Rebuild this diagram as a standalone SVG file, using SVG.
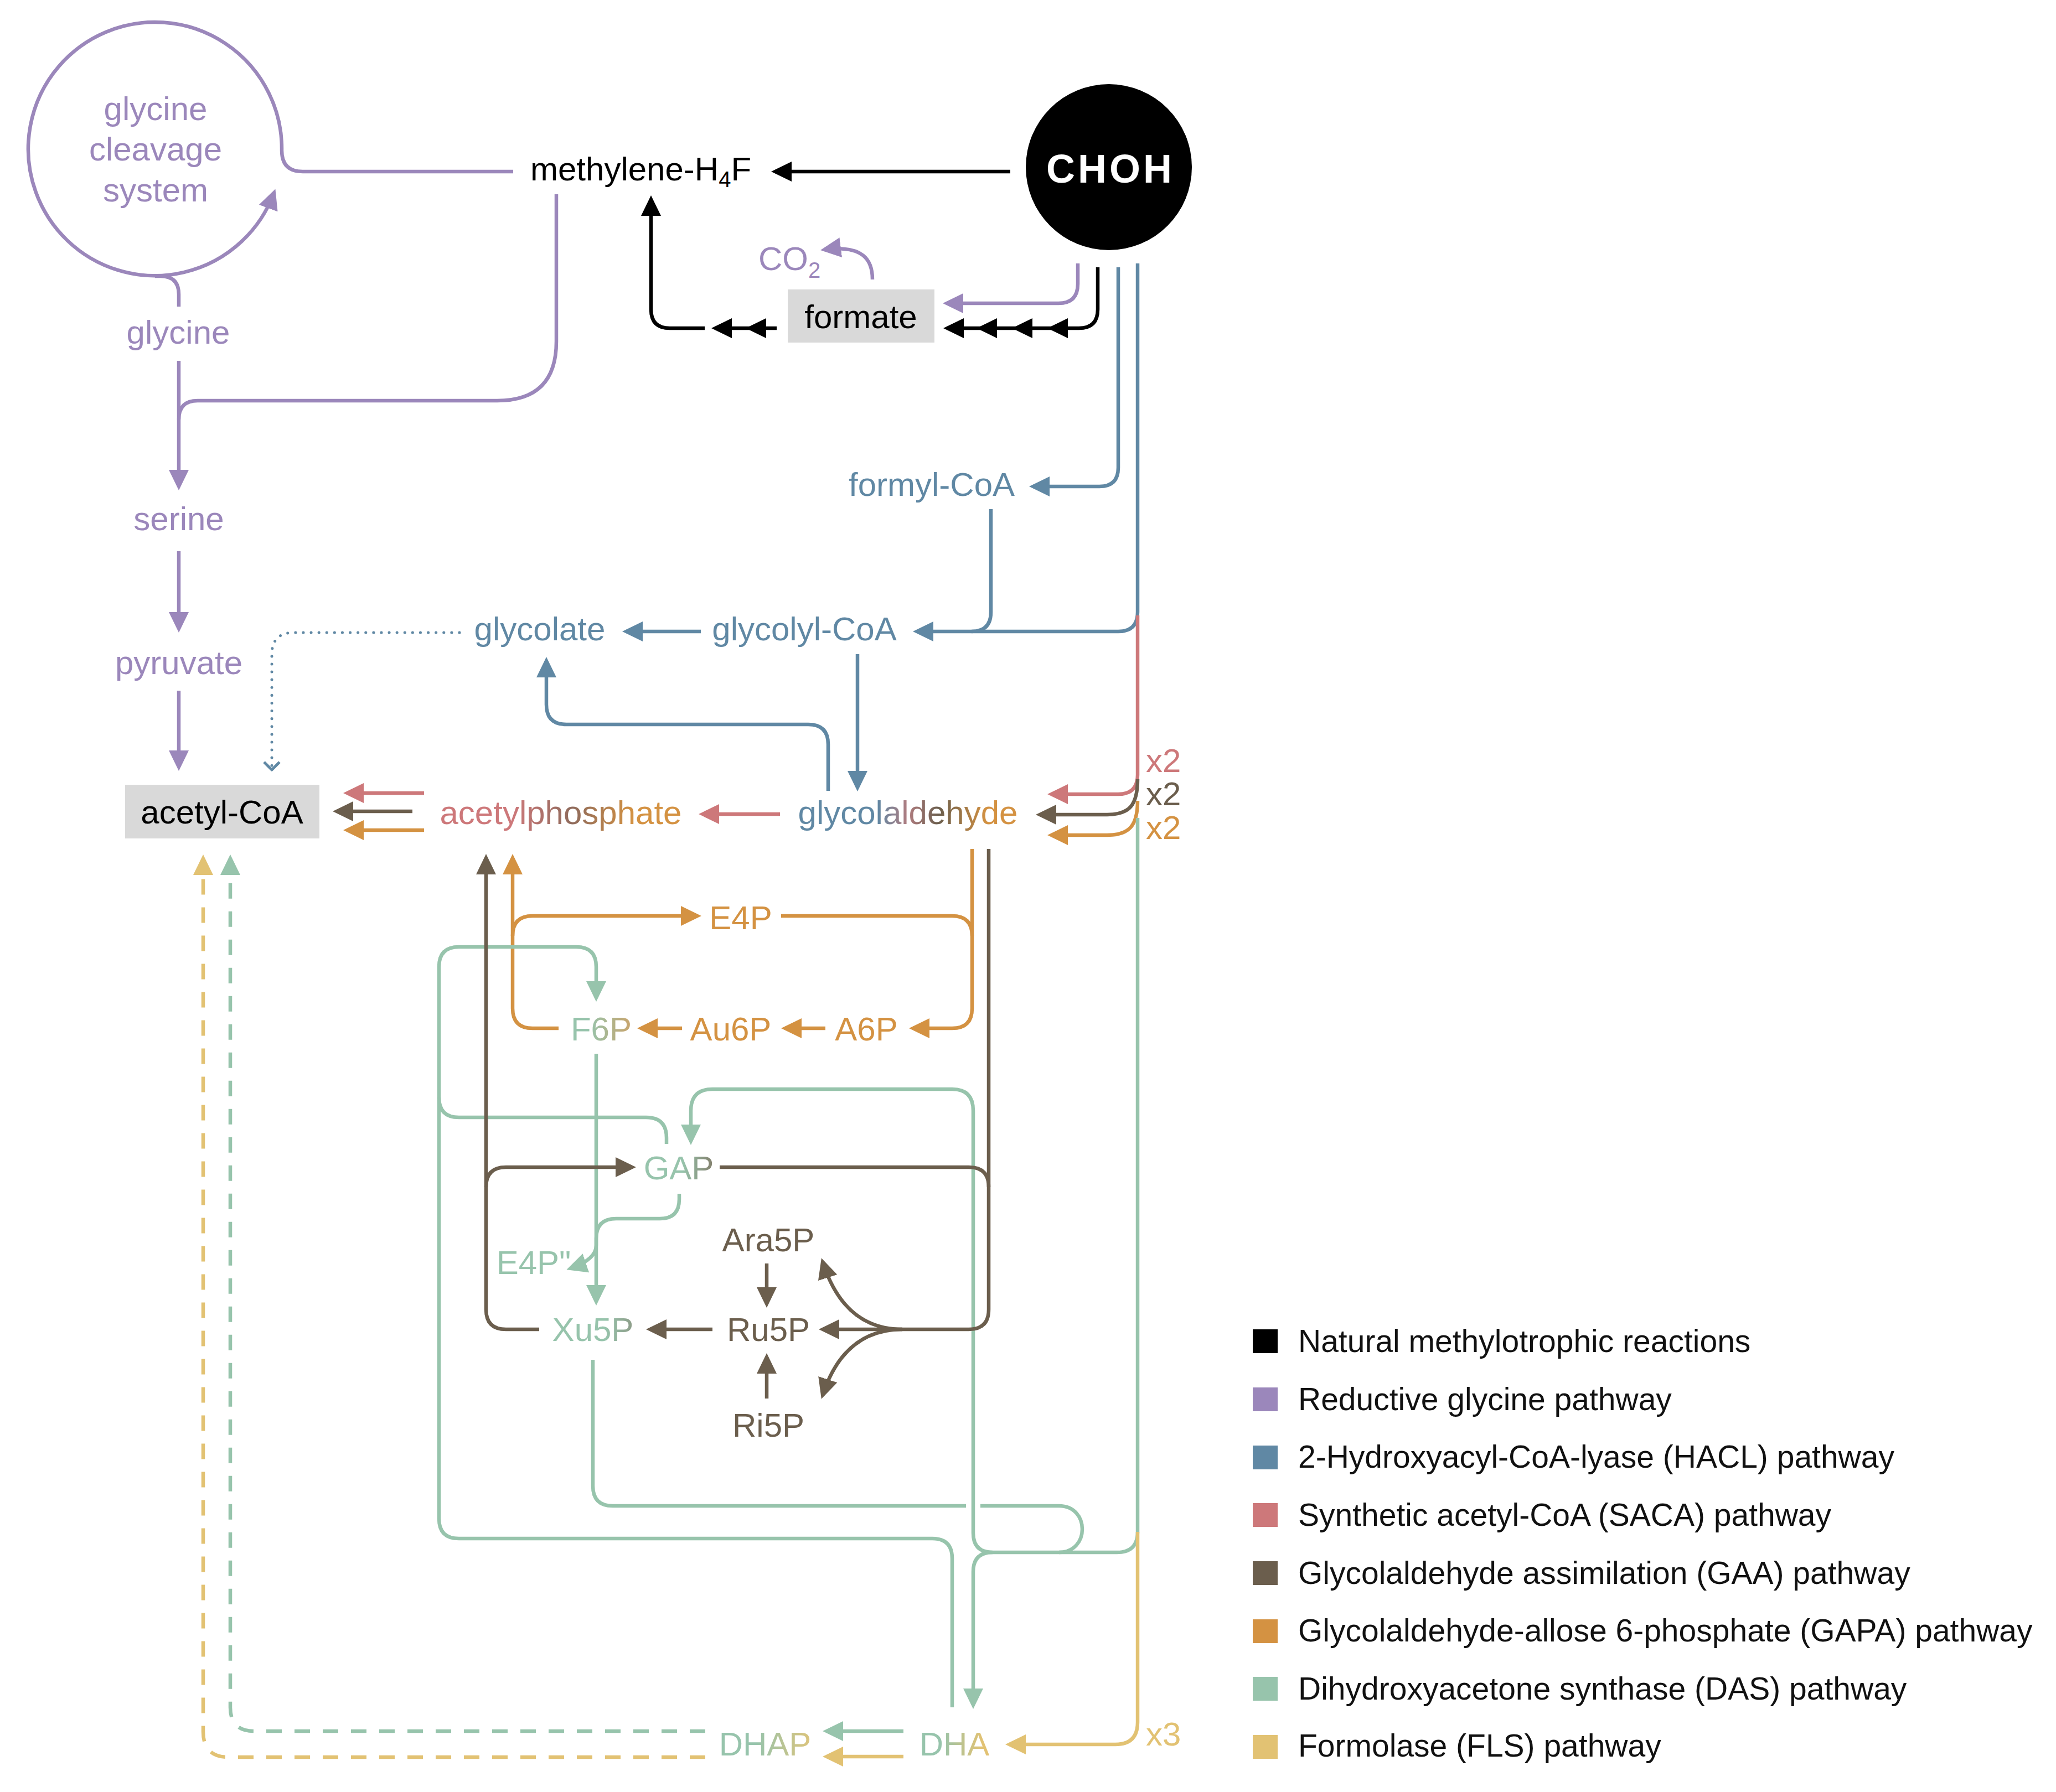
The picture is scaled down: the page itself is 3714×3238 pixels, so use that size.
<svg xmlns="http://www.w3.org/2000/svg" width="3714" height="3238" viewBox="0 0 3714 3238">
<style>
.c{fill:none;stroke-width:6.5;stroke-linecap:butt;stroke-linejoin:round}
.k{stroke:#000}.pu{stroke:#9b87bb}.bl{stroke:#6088a4}.rd{stroke:#cd787a}.br{stroke:#6b5e4d}.or{stroke:#d49242}.gr{stroke:#97c4ac}.ye{stroke:#e2c273}
.dash{stroke-dasharray:28 23}
.dot{stroke-width:5;stroke-dasharray:0.1 14;stroke-linecap:round}
.t{font-family:'Liberation Sans',Arial,Helvetica,sans-serif;font-size:60px}
.m{text-anchor:middle}
.lg{font-family:'Liberation Sans',Arial,Helvetica,sans-serif;font-size:57px;fill:#111}
.fk{fill:#000}.fpu{fill:#9b87bb}.fbl{fill:#6088a4}.frd{fill:#cd787a}.fbr{fill:#6b5e4d}.for{fill:#d49242}.fgr{fill:#97c4ac}.fye{fill:#e2c273}
.box{fill:#d9d9d9}
</style>
<defs>
<marker id="a-k" viewBox="0 0 37 36" refX="30" refY="18" markerWidth="37" markerHeight="36" markerUnits="userSpaceOnUse" orient="auto"><path d="M0,0 L37,18 L0,36 z" fill="#000"/></marker>
<marker id="a-pu" viewBox="0 0 37 36" refX="30" refY="18" markerWidth="37" markerHeight="36" markerUnits="userSpaceOnUse" orient="auto"><path d="M0,0 L37,18 L0,36 z" fill="#9b87bb"/></marker>
<marker id="a-bl" viewBox="0 0 37 36" refX="30" refY="18" markerWidth="37" markerHeight="36" markerUnits="userSpaceOnUse" orient="auto"><path d="M0,0 L37,18 L0,36 z" fill="#6088a4"/></marker>
<marker id="a-rd" viewBox="0 0 37 36" refX="30" refY="18" markerWidth="37" markerHeight="36" markerUnits="userSpaceOnUse" orient="auto"><path d="M0,0 L37,18 L0,36 z" fill="#cd787a"/></marker>
<marker id="a-br" viewBox="0 0 37 36" refX="30" refY="18" markerWidth="37" markerHeight="36" markerUnits="userSpaceOnUse" orient="auto"><path d="M0,0 L37,18 L0,36 z" fill="#6b5e4d"/></marker>
<marker id="a-or" viewBox="0 0 37 36" refX="30" refY="18" markerWidth="37" markerHeight="36" markerUnits="userSpaceOnUse" orient="auto"><path d="M0,0 L37,18 L0,36 z" fill="#d49242"/></marker>
<marker id="a-gr" viewBox="0 0 37 36" refX="30" refY="18" markerWidth="37" markerHeight="36" markerUnits="userSpaceOnUse" orient="auto"><path d="M0,0 L37,18 L0,36 z" fill="#97c4ac"/></marker>
<marker id="a-ye" viewBox="0 0 37 36" refX="30" refY="18" markerWidth="37" markerHeight="36" markerUnits="userSpaceOnUse" orient="auto"><path d="M0,0 L37,18 L0,36 z" fill="#e2c273"/></marker>
<linearGradient id="gGald" x1="0" y1="0" x2="1" y2="0"><stop offset="0" stop-color="#6088a4"/><stop offset="0.36" stop-color="#6088a4"/><stop offset="0.5" stop-color="#b07d80"/><stop offset="0.64" stop-color="#6b5e4d"/><stop offset="0.86" stop-color="#d49242"/><stop offset="1" stop-color="#d49242"/></linearGradient>
<linearGradient id="gAcP" x1="0" y1="0" x2="1" y2="0"><stop offset="0" stop-color="#cd787a"/><stop offset="0.3" stop-color="#cd787a"/><stop offset="0.55" stop-color="#8f6b5c"/><stop offset="0.8" stop-color="#d49242"/><stop offset="1" stop-color="#d49242"/></linearGradient>
<linearGradient id="gF6P" x1="0" y1="0" x2="1" y2="0"><stop offset="0" stop-color="#97c4ac"/><stop offset="0.3" stop-color="#97c4ac"/><stop offset="1" stop-color="#c9a46c"/></linearGradient>
<linearGradient id="gGAP" x1="0" y1="0" x2="1" y2="0"><stop offset="0" stop-color="#97c4ac"/><stop offset="0.55" stop-color="#97c4ac"/><stop offset="1" stop-color="#837f6c"/></linearGradient>
<linearGradient id="gXu5P" x1="0" y1="0" x2="1" y2="0"><stop offset="0" stop-color="#97c4ac"/><stop offset="0.65" stop-color="#97c4ac"/><stop offset="1" stop-color="#8d9c88"/></linearGradient>
<linearGradient id="gDHAP" x1="0" y1="0" x2="1" y2="0"><stop offset="0" stop-color="#97c4ac"/><stop offset="0.4" stop-color="#97c4ac"/><stop offset="1" stop-color="#dcc47c"/></linearGradient>
<linearGradient id="gDHA" x1="0" y1="0" x2="1" y2="0"><stop offset="0" stop-color="#97c4ac"/><stop offset="0.3" stop-color="#97c4ac"/><stop offset="0.9" stop-color="#e2c273"/><stop offset="1" stop-color="#e2c273"/></linearGradient>
</defs>
<rect width="3714" height="3238" fill="#fff"/>

<g id="connectors">
<!-- purple -->
<path class="c pu" d="M927 310 H547 Q509 310 509 272 A229 229 0 1 0 495 348" marker-end="url(#a-pu)"/>
<path class="c pu" d="M323 554 V532 Q323 499 290 499 H280"/>
<path class="c pu" d="M323 652 V879" marker-end="url(#a-pu)"/>
<path class="c pu" d="M1005 351 V617 Q1005 724 898 724 H357 Q323 724 323 758"/>
<path class="c pu" d="M323 996 V1136" marker-end="url(#a-pu)"/>
<path class="c pu" d="M323 1248 V1386" marker-end="url(#a-pu)"/>
<path class="c pu" d="M1947 476 V513 Q1947 548 1912 548 H1710" marker-end="url(#a-pu)"/>
<path class="c pu" d="M1576 505 C1576 470 1560 442 1489 451" marker-end="url(#a-pu)"/>
<!-- black -->
<path class="c k" d="M1825 310 H1400" marker-end="url(#a-k)"/>
<path class="c k" d="M1983 483 V559 Q1983 593 1949 593 H1710"/>
<polygon class="fk" points="1704,593 1741,575 1741,611"/>
<polygon class="fk" points="1764,593 1801,575 1801,611"/>
<polygon class="fk" points="1828,593 1865,575 1865,611"/>
<polygon class="fk" points="1892,593 1929,575 1929,611"/>
<path class="c k" d="M1403 593 H1292"/>
<polygon class="fk" points="1347,593 1384,575 1384,611"/>
<polygon class="fk" points="1285,593 1322,575 1322,611"/>
<path class="c k" d="M1273 593 H1210 Q1176 593 1176 559 V360" marker-end="url(#a-k)"/>
<!-- blue -->
<path class="c bl" d="M2020 483 V845 Q2020 879 1986 879 H1866" marker-end="url(#a-bl)"/>
<path class="c bl" d="M2055 476 V1106 Q2055 1141 2020 1141 H1656" marker-end="url(#a-bl)"/>
<path class="c bl" d="M1790 920 V1106 Q1790 1141 1755 1141"/>
<path class="c bl" d="M1266 1141 H1131" marker-end="url(#a-bl)"/>
<path class="c bl" d="M1549 1182 V1423" marker-end="url(#a-bl)"/>
<path class="c bl" d="M1496 1429 V1345 Q1496 1309 1460 1309 H1023 Q987 1309 987 1273 V1194" marker-end="url(#a-bl)"/>
<path class="c bl dot" d="M830 1143 H531 Q491 1143 491 1183 V1386"/>
<polyline class="c bl" style="stroke-width:5" points="477,1377 491,1391 505,1377"/>
<!-- red -->
<path class="c rd" d="M2055 1112 V1400 Q2055 1435 2020 1435 H1899" marker-end="url(#a-rd)"/>
<path class="c rd" d="M1409 1471 H1269" marker-end="url(#a-rd)"/>
<path class="c rd" d="M766 1433 H627" marker-end="url(#a-rd)"/>
<!-- orange -->
<path class="c or" d="M2055 1447 C2055 1492 2040 1509 2000 1509 H1899" marker-end="url(#a-or)"/>
<path class="c or" d="M766 1500 H627" marker-end="url(#a-or)"/>
<path class="c or" d="M1756 1534 V1822 Q1756 1858 1720 1858 H1649" marker-end="url(#a-or)"/>
<path class="c or" d="M1411 1655 H1720 Q1756 1655 1756 1691"/>
<path class="c or" d="M1491 1858 H1418" marker-end="url(#a-or)"/>
<path class="c or" d="M1232 1858 H1158" marker-end="url(#a-or)"/>
<path class="c or" d="M1009 1858 H962 Q926 1858 926 1822 V1550" marker-end="url(#a-or)"/>
<path class="c or" d="M926 1691 Q926 1655 962 1655 H1260" marker-end="url(#a-or)"/>
<!-- green -->
<path class="c gr" d="M2055 1478 V2768 Q2055 2805 2018 2805 H1793 Q1758 2805 1758 2770 V2007 Q1758 1968 1720 1968 H1287 Q1248 1968 1248 2007 V2062" marker-end="url(#a-gr)"/>
<path class="c gr" d="M1793 2805 Q1758 2805 1758 2840 V3081" marker-end="url(#a-gr)"/>
<path class="c gr" d="M1071 2457 V2685 Q1071 2721 1107 2721 H1745 M1771 2721 H1913 C1969 2721 1969 2805 1913 2805"/>
<path class="c gr" d="M1720 3085 V2816 Q1720 2780 1684 2780 H829 Q793 2780 793 2744 V1747 Q793 1711 829 1711 H1041 Q1077 1711 1077 1747 V1803" marker-end="url(#a-gr)"/>
<path class="c gr" d="M793 1983 Q793 2019 829 2019 H1167 Q1204 2019 1204 2056 V2067"/>
<path class="c gr" d="M1077 1904 V2352" marker-end="url(#a-gr)"/>
<path class="c gr" d="M1227 2157 V2167 Q1227 2202 1192 2202 H1113 Q1077 2202 1077 2238 V2250 Q1077 2276 1030 2292" marker-end="url(#a-gr)"/>
<path class="c gr" d="M1632 3128 H1493" marker-end="url(#a-gr)"/>
<path class="c gr dash" d="M1274 3128 H459 Q416 3128 416 3085 V1551" marker-end="url(#a-gr)"/>
<!-- yellow -->
<path class="c ye" d="M2055 2768 V3112 Q2055 3152 2015 3152 H1823" marker-end="url(#a-ye)"/>
<path class="c ye" d="M1632 3174 H1493" marker-end="url(#a-ye)"/>
<path class="c ye dash" d="M1274 3175 H413 Q367 3175 367 3129 V1551" marker-end="url(#a-ye)"/>
<!-- brown -->
<path class="c br" d="M2055 1408 C2055 1455 2040 1472 2000 1472 H1878" marker-end="url(#a-br)"/>
<path class="c br" d="M745 1466 H608" marker-end="url(#a-br)"/>
<path class="c br" d="M1786 1534 V2366 Q1786 2402 1750 2402 H1630"/>
<path class="c br" d="M1300 2109 H1750 Q1786 2109 1786 2145"/>
<path class="c br" d="M1630 2402 H1486" marker-end="url(#a-br)"/>
<path class="c br" d="M1630 2402 Q1525 2402 1486 2280" marker-end="url(#a-br)"/>
<path class="c br" d="M1630 2402 Q1525 2402 1486 2521" marker-end="url(#a-br)"/>
<path class="c br" d="M1385 2283 V2356" marker-end="url(#a-br)"/>
<path class="c br" d="M1385 2527 V2452" marker-end="url(#a-br)"/>
<path class="c br" d="M1287 2402 H1174" marker-end="url(#a-br)"/>
<path class="c br" d="M974 2402 H914 Q878 2402 878 2366 V1550" marker-end="url(#a-br)"/>
<path class="c br" d="M878 2145 Q878 2109 914 2109 H1142" marker-end="url(#a-br)"/>
</g>

<g id="node-gcs"><text class="t m fpu" x="281" y="217">glycine</text><text class="t m fpu" x="281" y="290">cleavage</text><text class="t m fpu" x="281" y="364">system</text></g>
<g id="node-glycine"><text class="t m fpu" x="322" y="621">glycine</text></g>
<g id="node-serine"><text class="t m fpu" x="323" y="958">serine</text></g>
<g id="node-pyruvate"><text class="t m fpu" x="323" y="1218">pyruvate</text></g>
<g id="node-acetylcoa"><rect class="box" x="226" y="1418" width="351" height="97"/><text class="t m fk" x="401" y="1488">acetyl-CoA</text></g>
<g id="node-methylene"><text class="t fk" x="958" y="326">methylene-H<tspan font-size="40" dy="12">4</tspan><tspan dy="-12">F</tspan></text></g>
<g id="node-CHOH"><circle cx="2003" cy="302" r="150" fill="#000"/><text x="2006" y="330" text-anchor="middle" font-family="'Liberation Sans',Arial,Helvetica,sans-serif" font-size="72" font-weight="bold" letter-spacing="5" fill="#fff">CHOH</text></g>
<g id="node-formate"><rect class="box" x="1423" y="523" width="265" height="96"/><text class="t m fk" x="1555" y="593">formate</text></g>
<g id="node-CO2"><text class="t fpu" x="1370" y="488">CO<tspan font-size="40" dy="14">2</tspan></text></g>
<g id="node-formylcoa"><text class="t m fbl" x="1683" y="896">formyl-CoA</text></g>
<g id="node-glycolylcoa"><text class="t m fbl" x="1453" y="1157">glycolyl-CoA</text></g>
<g id="node-glycolate"><text class="t m fbl" x="975" y="1157">glycolate</text></g>
<g id="node-glycolaldehyde"><text class="t m" fill="url(#gGald)" x="1640" y="1489">glycolaldehyde</text></g>
<g id="node-acetylphosphate"><text class="t m" fill="url(#gAcP)" x="1013" y="1489">acetylphosphate</text></g>
<g id="node-E4P"><text class="t m for" x="1338" y="1679">E4P</text></g>
<g id="node-F6P"><text class="t m" fill="url(#gF6P)" x="1086" y="1880">F6P</text></g>
<g id="node-Au6P"><text class="t m for" x="1320" y="1880">Au6P</text></g>
<g id="node-A6P"><text class="t m for" x="1565" y="1880">A6P</text></g>
<g id="node-GAP"><text class="t m" fill="url(#gGAP)" x="1226" y="2131">GAP</text></g>
<g id="node-E4P2"><text class="t m fgr" x="964" y="2302">E4P"</text></g>
<g id="node-Ara5P"><text class="t m fbr" x="1388" y="2261">Ara5P</text></g>
<g id="node-Ru5P"><text class="t m fbr" x="1388" y="2423">Ru5P</text></g>
<g id="node-Ri5P"><text class="t m fbr" x="1388" y="2596">Ri5P</text></g>
<g id="node-Xu5P"><text class="t m" fill="url(#gXu5P)" x="1071" y="2423">Xu5P</text></g>
<g id="node-DHAP"><text class="t m" fill="url(#gDHAP)" x="1382" y="3172">DHAP</text></g>
<g id="node-DHA"><text class="t m" fill="url(#gDHA)" x="1724" y="3172">DHA</text></g>
<g id="stoichiometry">
<text class="t frd" x="2070" y="1395">x2</text>
<text class="t fbr" x="2070" y="1455">x2</text>
<text class="t for" x="2070" y="1516">x2</text>
<text class="t fye" x="2070" y="3154">x3</text>
</g>

<g id="legend">
<rect x="2263" y="2402" width="45" height="43" fill="#000"/><text class="lg" x="2345" y="2443">Natural methylotrophic reactions</text>
<rect x="2263" y="2507" width="45" height="43" fill="#9b87bb"/><text class="lg" x="2345" y="2548">Reductive glycine pathway</text>
<rect x="2263" y="2612" width="45" height="43" fill="#6088a4"/><text class="lg" x="2345" y="2652">2-Hydroxyacyl-CoA-lyase (HACL) pathway</text>
<rect x="2263" y="2716" width="45" height="43" fill="#cd787a"/><text class="lg" x="2345" y="2757">Synthetic acetyl-CoA (SACA) pathway</text>
<rect x="2263" y="2821" width="45" height="43" fill="#6b5e4d"/><text class="lg" x="2345" y="2862">Glycolaldehyde assimilation (GAA) pathway</text>
<rect x="2263" y="2926" width="45" height="43" fill="#d49242"/><text class="lg" x="2345" y="2966">Glycolaldehyde-allose 6-phosphate (GAPA) pathway</text>
<rect x="2263" y="3030" width="45" height="43" fill="#97c4ac"/><text class="lg" x="2345" y="3071">Dihydroxyacetone synthase (DAS) pathway</text>
<rect x="2263" y="3135" width="45" height="43" fill="#e2c273"/><text class="lg" x="2345" y="3174">Formolase (FLS) pathway</text>
</g>
</svg>
